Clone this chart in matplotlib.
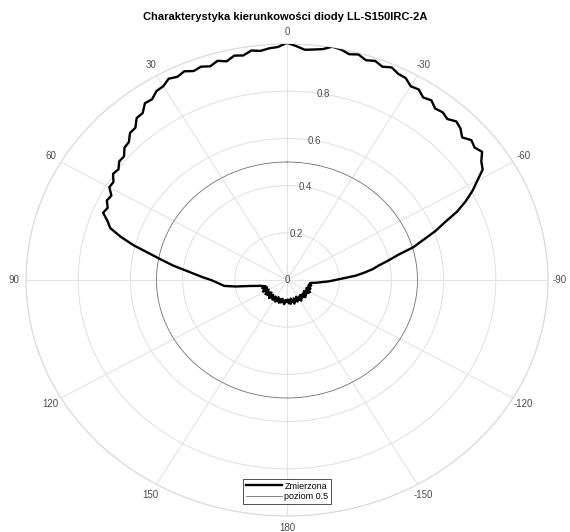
import numpy as np
import matplotlib
matplotlib.use("Agg")
import matplotlib.pyplot as plt
from matplotlib.lines import Line2D

plt.rcParams['font.family'] = ['Liberation Sans', 'DejaVu Sans']

title = "Charakterystyka kierunkowości diody LL-S150IRC-2A"
theta_ticks_deg = [0, 30, 60, 90, 120, 150, 180, 210, 240, 270, 300, 330]
theta_labels = ['0', '30', '60', '90', '120', '150', '180', '-150', '-120', '-90', '-60', '-30']
r_ticks = [0, 0.2, 0.4, 0.6, 0.8, 1.0]
r_labels = ['0', '0.2', '0.4', '0.6', '0.8', '']
level = 0.5

# measured angles (deg, CCW from top), sampled every 2 degrees from -180 to 178
angles_deg = np.arange(-180, 180, 2)

# -180 .. -100 : back lobe
r_back_a = [0.091, 0.083, 0.099, 0.087, 0.102, 0.080, 0.094, 0.089, 0.104, 0.082,
            0.096, 0.086, 0.100, 0.079, 0.093, 0.090, 0.103, 0.084, 0.097, 0.081,
            0.095, 0.088, 0.101, 0.083, 0.098, 0.085, 0.093, 0.080, 0.099, 0.087,
            0.102, 0.084, 0.095, 0.082, 0.097, 0.088, 0.093, 0.085, 0.096, 0.087,
            0.090]
# -98 .. -2 : right side
r_right = [0.090, 0.112, 0.133, 0.161, 0.186, 0.218, 0.264, 0.298, 0.332, 0.358,
           0.397, 0.438, 0.503, 0.548, 0.604, 0.652, 0.714, 0.762, 0.805, 0.842,
           0.884, 0.898, 0.924, 0.912, 0.922, 0.903, 0.924, 0.934, 0.918, 0.928,
           0.922, 0.941, 0.933, 0.952, 0.948, 0.969, 0.972, 0.986, 0.975, 0.988,
           0.979, 0.994, 0.986, 0.998, 1.004, 0.988, 0.982, 0.978, 0.992]
# 0 .. 104 : left side
r_left = [1.005, 0.988, 0.984, 0.976, 0.982, 0.966, 0.972, 0.955, 0.966, 0.952,
          0.962, 0.955, 0.968, 0.958, 0.966, 0.948, 0.944, 0.924, 0.926, 0.898,
          0.896, 0.868, 0.866, 0.842, 0.838, 0.815, 0.816, 0.798, 0.804, 0.784,
          0.786, 0.762, 0.768, 0.752, 0.760, 0.732, 0.712, 0.662, 0.604, 0.538,
          0.486, 0.441, 0.392, 0.354, 0.322, 0.291, 0.272, 0.255, 0.241, 0.198,
          0.146, 0.119, 0.102]
# 106 .. 178 : back lobe
r_back_b = [0.094, 0.086, 0.101, 0.083, 0.097, 0.088, 0.104, 0.081, 0.095, 0.090,
            0.102, 0.084, 0.098, 0.080, 0.096, 0.087, 0.103, 0.082, 0.094, 0.089,
            0.100, 0.083, 0.097, 0.086, 0.102, 0.080, 0.095, 0.088, 0.101, 0.084,
            0.098, 0.082, 0.096, 0.089, 0.103, 0.085, 0.092]

r_meas = r_back_a + r_right + r_left + r_back_b
assert len(r_meas) == len(angles_deg)

th = np.deg2rad(np.append(angles_deg, angles_deg[0] + 360))
rr = np.append(r_meas, r_meas[0])

fig = plt.figure(figsize=(5.7, 5.32), dpi=100)
ax = fig.add_axes([26 / 570, 1 - 516 / 532, 522 / 570, 472 / 532], projection='polar')
ax.set_aspect('auto')
ax.set_theta_zero_location('N')
ax.set_theta_direction(1)

grid_col = '#e3e3e3'
lab_col = '#4d4d4d'

ax.set_thetagrids(theta_ticks_deg, labels=theta_labels)
ax.set_ylim(0, 1)
ax.set_rticks(r_ticks)
ax.set_yticklabels(r_labels)
ax.set_rlabel_position(-10)
ax.grid(True, color=grid_col, linewidth=0.8)
ax.spines['polar'].set_color('#dcdcdc')
ax.spines['polar'].set_linewidth(0.9)
ax.tick_params(axis='x', labelsize=7, labelcolor=lab_col, pad=-2)
ax.tick_params(axis='y', labelsize=7, labelcolor=lab_col)
for lbl in ax.get_yticklabels():
    lbl.set_verticalalignment('center')
    lbl.set_horizontalalignment('center')

circ_th = np.linspace(0, 2 * np.pi, 361)
ax.plot(th, rr, color='black', linewidth=1.7, zorder=3)
ax.plot(circ_th, np.full_like(circ_th, level), color='#707070', linewidth=0.6, zorder=2)

fig.text(0.5, 1 - 17 / 532, title, ha='center', va='center', fontsize=8, fontweight='bold')

handles = [Line2D([], [], color='black', linewidth=1.7),
           Line2D([], [], color='#707070', linewidth=0.6)]
leg = fig.legend(handles, ['Zmierzona', 'poziom 0.5'], loc='center',
                 bbox_to_anchor=(287 / 570, 1 - 491.5 / 532), fontsize=6.5,
                 frameon=True, fancybox=False, edgecolor='#333333', framealpha=1,
                 handlelength=4, handletextpad=0.3, borderpad=0.3, labelspacing=0.2,
                 borderaxespad=0)
leg.get_frame().set_linewidth(0.6)

fig.savefig('out.png', dpi=100)
